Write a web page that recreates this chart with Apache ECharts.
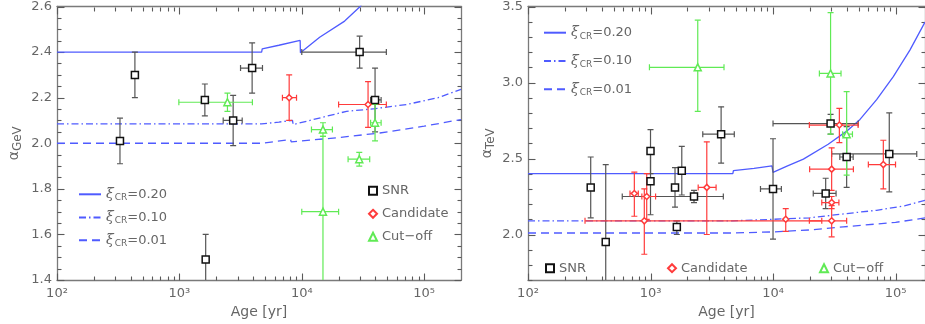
<!DOCTYPE html>
<html><head><meta charset="utf-8">
<script src="https://cdn.jsdelivr.net/npm/echarts@6/dist/echarts.min.js"></script>
<style>html,body{margin:0;padding:0;background:#fff}#c{width:925px;height:324px}</style>
</head><body><div id="c"></div>
<script>
// ---- data: [age, alpha, ageLow, ageHigh, alphaLow, alphaHigh] ----
const gevSNR = [
  [327, 2.01, 327, 327, 1.91, 2.11],
  [433, 2.30, 433, 433, 2.20, 2.40],
  [1615, 2.19, 1615, 1615, 2.12, 2.26],
  [1640, 1.49, 1640, 1640, 1.39, 1.60],
  [2750, 2.10, 2280, 3260, 1.99, 2.21],
  [3930, 2.33, 3160, 4775, 2.22, 2.44],
  [29700, 2.40, 10000, 49100, 2.33, 2.47],
  [39700, 2.19, 36500, 44500, 2.05, 2.33]
];
const gevCandidate = [
  [7890, 2.20, 6950, 9060, 2.10, 2.30],
  [34800, 2.17, 20000, 49100, 2.07, 2.27]
];
const gevCutoff = [
  [2470, 2.18, 990, 3950, 2.14, 2.22],
  [14900, 2.06, 12000, 17800, 2.03, 2.09],
  [14900, 1.70, 10000, 20000, 1.37, 2.03],
  [29500, 1.93, 23900, 35900, 1.90, 1.96],
  [39700, 2.09, 36500, 44500, 2.01, 2.17]
];
const tevSNR = [
  [325, 2.31, 325, 325, 2.11, 2.51],
  [431, 1.95, 431, 431, 1.45, 2.46],
  [1000, 2.55, 1000, 1000, 2.40, 2.69],
  [1000, 2.35, 1000, 1000, 2.13, 2.57],
  [1585, 2.31, 1585, 1585, 2.18, 2.44],
  [1640, 2.05, 1640, 1640, 2.00, 2.09],
  [1800, 2.42, 1800, 1800, 2.26, 2.58],
  [2265, 2.25, 588, 3930, 2.21, 2.29],
  [3770, 2.66, 2670, 4830, 2.47, 2.84],
  [10000, 2.30, 7900, 11700, 1.97, 2.63],
  [26900, 2.27, 21300, 32700, 2.17, 2.37],
  [29500, 2.73, 10000, 49600, 2.66, 2.79],
  [39900, 2.51, 35100, 45100, 2.31, 2.71],
  [88900, 2.53, 30100, 149000, 2.28, 2.80]
];
const tevCandidate = [
  [738, 2.27, 680, 795, 2.12, 2.41],
  [931, 2.25, 850, 1100, 2.10, 2.40],
  [890, 2.09, 292, 25000, 1.87, 2.30],
  [2880, 2.31, 2450, 3430, 2.00, 2.61],
  [12700, 2.10, 12700, 12700, 2.02, 2.17],
  [30100, 2.43, 19900, 45300, 2.29, 2.57],
  [30100, 2.21, 25000, 34500, 2.17, 2.25],
  [30100, 2.09, 19800, 39900, 1.985, 2.19],
  [34800, 2.72, 19800, 49500, 2.605, 2.83],
  [79500, 2.46, 60000, 100000, 2.30, 2.62]
];
const tevCutoff = [
  [2430, 3.10, 980, 3980, 2.81, 3.41],
  [29500, 3.06, 23900, 35900, 2.66, 3.46],
  [39900, 2.66, 37000, 44500, 2.39, 2.94]
];
// model curves [age, alpha]
const gevXi20 = [[100,2.40],[4700,2.40],[4750,2.414],[6500,2.43],[9700,2.451],[9750,2.397],[14000,2.465],[22400,2.536],[30000,2.60],[40000,2.68]];
const gevXi10 = [[100,2.085],[4700,2.085],[6500,2.093],[8400,2.10],[8500,2.082],[23200,2.14],[40000,2.152],[72000,2.17],[130000,2.20],[200000,2.236]];
const gevXi01 = [[100,2.00],[4700,2.00],[4750,2.007],[8100,2.016],[8200,2.006],[20000,2.025],[43400,2.045],[100000,2.075],[200000,2.104]];
const tevXi20 = [[100,2.40],[4700,2.40],[4750,2.42],[7000,2.435],[9800,2.452],[10000,2.409],[13000,2.45],[17700,2.496],[28200,2.594],[39900,2.68],[51300,2.757],[70100,2.887],[95900,3.039],[131000,3.213],[174000,3.398]];
const tevXi10 = [[100,2.09],[4700,2.09],[4750,2.10],[10000,2.10],[20000,2.11],[48000,2.145],[70100,2.159],[120000,2.19],[174000,2.224]];
const tevXi01 = [[100,2.01],[4700,2.01],[4750,2.015],[10000,2.017],[20000,2.03],[37400,2.05],[100000,2.08],[174000,2.109]];
// axis ranges and tick values
const gevAgeRange = [100, 200000], tevAgeRange = [100, 174000];
const gevAlphaRange = [1.4, 2.6], tevAlphaRange = [1.7, 3.5];
const xMajorTicks = [100, 1000, 10000, 100000];
const xMinorTicks = [200,300,400,500,600,700,800,900,2000,3000,4000,5000,6000,7000,8000,9000,20000,30000,40000,50000,60000,70000,80000,90000];
const gevMajorTicks = [1.4, 1.6, 1.8, 2.0, 2.2, 2.4, 2.6];
const gevMinorTicks = [1.45,1.5,1.55,1.65,1.7,1.75,1.85,1.9,1.95,2.05,2.1,2.15,2.25,2.3,2.35,2.45,2.5,2.55];
const tevMajorTicks = [2.0, 2.5, 3.0, 3.5];
const tevMinorTicks = [1.7,1.8,1.9,2.1,2.2,2.3,2.4,2.6,2.7,2.8,2.9,3.1,3.2,3.3,3.4];
const seriesNames = ['SNR', 'Candidate', 'Cut−off'];
const lineNames = ['ξ=0.20', 'ξ=0.10', 'ξ=0.01'];

const AX = '#7a7a7a', TK = '#5a5a5a', LBL = '#666666', FONT = 'DejaVu Sans';
const BLUE = '#4f5bff', BLACK = '#111111', GRAYBAR = '#555555', RED = '#ff3b3b', GREEN = '#60ea55';
const SUP = {2:'²',3:'³',4:'⁴',5:'⁵'};

function xa(grid, range, pos, withLabel) {
  const o = {type:'log', logBase:10, min:range[0], max:range[1], gridIndex:grid, position:pos, splitLine:{show:false}, axisPointer:{show:false},
    axisLine:{show:true, lineStyle:{color:AX, width:1.3}}, axisTick:{show:false},
    axisLabel:{show:withLabel, color:LBL, fontSize:13, fontFamily:FONT, margin:7, customValues:xMajorTicks,
      formatter: v => { const l = Math.log10(v); const r = Math.round(l); return Math.abs(l-r) < 1e-6 ? '10' + SUP[r] : ''; }}};
  if (withLabel) {
    o.name = 'Age [yr]'; o.nameLocation = 'middle'; o.nameGap = 24;
    o.nameTextStyle = {color:LBL, fontSize:14, fontFamily:FONT};
  }
  return o;
}
function yName(sub, gap) {
  return {name:'{a|α}{s|' + sub + '}', nameLocation:'middle', nameGap:gap,
    nameTextStyle:{rich:{a:{color:LBL, fontSize:14, fontFamily:FONT}, s:{color:LBL, fontSize:12, fontFamily:FONT, padding:[7,0,0,0]}}}};
}
function ya(grid, range, pos, labels, nm) {
  return Object.assign({type:'value', gridIndex:grid, min:range[0], max:range[1], position:pos, splitLine:{show:false},
    axisLine:{show:true, lineStyle:{color:AX, width:1.3}}, axisTick:{show:false},
    axisLabel: labels ? {show:true, customValues:labels, color:LBL, fontSize:13, fontFamily:FONT, margin:5, formatter: v => v.toFixed(1)} : {show:false}}, nm || {});
}
const xAxes = [xa(0, gevAgeRange, 'bottom', true), xa(0, gevAgeRange, 'top', false), xa(1, tevAgeRange, 'bottom', true), xa(1, tevAgeRange, 'top', false)];
const yAxes = [ya(0, gevAlphaRange, 'left', gevMajorTicks, yName('GeV', 33)), ya(0, gevAlphaRange, 'right', null),
               ya(1, tevAlphaRange, 'left', tevMajorTicks, yName('TeV', 31)), ya(1, tevAlphaRange, 'right', null)];

// inward tick marks on all four sides, placed through the axes' scales
function tickItems(xr, yr, yMaj, yMin) {
  const d = [];
  xMajorTicks.forEach(v => { if (v >= xr[0] && v <= xr[1]) { d.push([v, yr[0], 0, 7]); d.push([v, yr[1], 1, 7]); } });
  xMinorTicks.forEach(v => { if (v >= xr[0] && v <= xr[1]) { d.push([v, yr[0], 0, 4]); d.push([v, yr[1], 1, 4]); } });
  yMaj.forEach(v => { d.push([xr[0], v, 2, 7]); d.push([xr[1], v, 3, 7]); });
  yMin.forEach(v => { d.push([xr[0], v, 2, 4]); d.push([xr[1], v, 3, 4]); });
  return d;
}
function tickSeries(data, xi, yi) {
  return {type:'custom', name:'ticks', xAxisIndex:xi, yAxisIndex:yi, clip:false, z:1, silent:true, data:data,
    renderItem: function(params, api) {
      const p = api.coord([api.value(0), api.value(1)]);
      const side = api.value(2), len = api.value(3);
      const x = Math.round(p[0]) + 0.5, y = Math.round(p[1]) + 0.5;
      let s;
      if (side === 0) s = {x1:x, y1:y, x2:x, y2:y-len};
      else if (side === 1) s = {x1:x, y1:y, x2:x, y2:y+len};
      else if (side === 2) s = {x1:x, y1:y, x2:x+len, y2:y};
      else s = {x1:x, y1:y, x2:x-len, y2:y};
      return {type:'line', shape:s, style:{stroke:TK, lineWidth:1.1}};
    }};
}

const dashTypes = {'ξ=0.20':'solid', 'ξ=0.10':[7,3,1.5,3], 'ξ=0.01':[8,5]};
function lineSeries(name, data, xi, yi) {
  return {type:'line', name:name, xAxisIndex:xi, yAxisIndex:yi, data:data, symbol:'none', showSymbol:false, clip:true,
    lineStyle:{color:BLUE, width:1.3, type:dashTypes[name]}, itemStyle:{color:BLUE}, z:2, silent:true};
}
function errSeries(data, color, xi, yi) {
  return {type:'custom', name:'err', xAxisIndex:xi, yAxisIndex:yi, clip:true, z:3, silent:true,
    data:data, encode:{x:0, y:1},
    renderItem: function(params, api) {
      const x = api.value(0), y = api.value(1), xl = api.value(2), xh = api.value(3), yl = api.value(4), yh = api.value(5);
      const c = api.coord([x, y]);
      const a = api.coord([xl, y]), b = api.coord([xh, y]);
      const lo = api.coord([x, yl]), hi = api.coord([x, yh]);
      const st = {stroke:color, lineWidth:1.2};
      const cap = 3;
      const ch = [];
      const L = (x1,y1,x2,y2) => ch.push({type:'line', shape:{x1:x1,y1:y1,x2:x2,y2:y2}, style:st});
      if (Math.abs(lo[1]-hi[1]) > 0.5) {
        L(c[0], lo[1], c[0], hi[1]);
        L(c[0]-cap, lo[1], c[0]+cap, lo[1]);
        L(c[0]-cap, hi[1], c[0]+cap, hi[1]);
      }
      if (Math.abs(b[0]-a[0]) > 0.5) {
        L(a[0], c[1], b[0], c[1]);
        L(a[0], c[1]-cap, a[0], c[1]+cap);
        L(b[0], c[1]-cap, b[0], c[1]+cap);
      }
      return {type:'group', children:ch};
    }};
}
function ptSeries(name, data, symbol, size, color, xi, yi) {
  return {type:'scatter', name:name, xAxisIndex:xi, yAxisIndex:yi, symbol:symbol, symbolSize:size, silent:true, z:4,
    data:data.map(d => [d[0], d[1]]), itemStyle:{color:'#ffffff', borderColor:color, borderWidth:1.5, opacity:1}};
}
const series = [
  tickSeries(tickItems(gevAgeRange, gevAlphaRange, gevMajorTicks, gevMinorTicks), 0, 0),
  tickSeries(tickItems(tevAgeRange, tevAlphaRange, tevMajorTicks, tevMinorTicks), 2, 2)
];
[[gevXi20,'ξ=0.20'],[gevXi10,'ξ=0.10'],[gevXi01,'ξ=0.01']].forEach(p => series.push(lineSeries(p[1], p[0], 0, 0)));
[[tevXi20,'ξ=0.20'],[tevXi10,'ξ=0.10'],[tevXi01,'ξ=0.01']].forEach(p => series.push(lineSeries(p[1], p[0], 2, 2)));
series.push(errSeries(gevSNR, GRAYBAR, 0, 0), errSeries(gevCandidate, RED, 0, 0), errSeries(gevCutoff, GREEN, 0, 0));
series.push(errSeries(tevSNR, GRAYBAR, 2, 2), errSeries(tevCandidate, RED, 2, 2), errSeries(tevCutoff, GREEN, 2, 2));
series.push(ptSeries('SNR', gevSNR, 'rect', 7, BLACK, 0, 0), ptSeries('Candidate', gevCandidate, 'diamond', 6, RED, 0, 0), ptSeries('Cut−off', gevCutoff, 'triangle', 7, GREEN, 0, 0));
series.push(ptSeries('SNR', tevSNR, 'rect', 7, BLACK, 2, 2), ptSeries('Candidate', tevCandidate, 'diamond', 6, RED, 2, 2), ptSeries('Cut−off', tevCutoff, 'triangle', 7, GREEN, 2, 2));

const legRich = {
  g:{color:LBL, fontSize:14, fontFamily:'DejaVu Serif', fontStyle:'italic'},
  s:{color:LBL, fontSize:9, fontFamily:FONT, padding:[7,0,0,1]},
  t:{color:LBL, fontSize:13, fontFamily:FONT}
};
function lineLegend(name, left, cy) {
  return {data:[name], left:left, top:cy-1, itemWidth:22, itemHeight:2, padding:0, selectedMode:false,
    itemStyle:{opacity:0}, formatter: n => '{g|ξ}{s|CR}{t|' + n.slice(1) + '}', textStyle:{color:LBL, rich:legRich}};
}
function symLegend(name, left, cy) {
  return {data:[name], left:left, top:cy-4, itemWidth:8, itemHeight:8, padding:0, selectedMode:false,
    textStyle:{color:LBL, fontSize:13, fontFamily:FONT}};
}
const legends = [
  lineLegend(lineNames[0], 78, 188.3), lineLegend(lineNames[1], 78, 211.5), lineLegend(lineNames[2], 78, 234.3),
  lineLegend(lineNames[0], 543, 26.7), lineLegend(lineNames[1], 543, 55), lineLegend(lineNames[2], 543, 83.3),
  symLegend(seriesNames[0], 368, 188.3), symLegend(seriesNames[1], 368, 211.3), symLegend(seriesNames[2], 368, 234.3),
  symLegend(seriesNames[0], 545, 265.7), symLegend(seriesNames[1], 667, 265.7), symLegend(seriesNames[2], 819, 265.7)
];

const chart = echarts.init(document.getElementById('c'), null, {renderer:'canvas'});
chart.setOption({
  animation:false,
  backgroundColor:'#ffffff',
  grid:[{left:57, top:5, width:404, height:275}, {left:528, top:5, width:397, height:276}],
  xAxis: xAxes,
  yAxis: yAxes,
  legend: legends,
  series: series
});
</script></body></html>
